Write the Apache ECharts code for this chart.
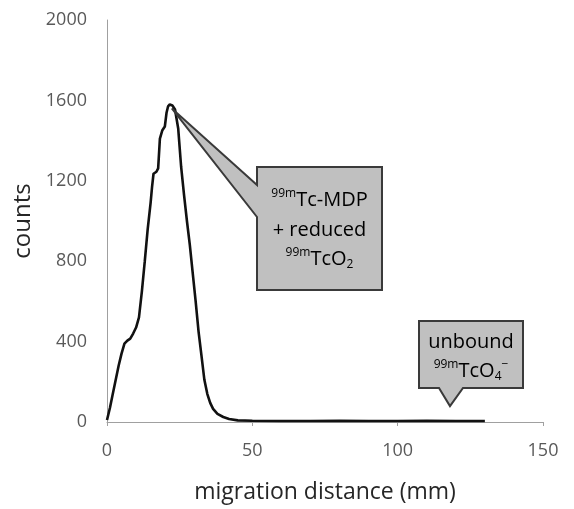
<!DOCTYPE html>
<html>
<head>
<meta charset="utf-8">
<script src="https://cdn.jsdelivr.net/npm/echarts@6/dist/echarts.min.js"></script>
<style>
html,body{margin:0;padding:0;background:#fff;}
#c{width:574px;height:509px;}
</style>
</head>
<body>
<div id="c"></div>
<script>
// migration distance (mm)
const distance = [0, 1, 2, 3, 4, 5, 6, 7, 8, 9, 10, 11, 12, 13, 14, 15, 15.5, 16, 17, 17.6, 18.2, 19, 19.9, 20.5, 21, 21.6, 22.5, 23.4, 24.5, 25.5, 26.5, 27.5, 28.5, 29.5, 30.5, 31.5, 32.5, 33.5, 34.5, 35.5, 36.5, 38, 40, 42, 45, 50, 60, 70, 80, 90, 100, 110, 120, 130];
// counts
const counts = [10, 70, 140, 210, 280, 340, 390, 405, 415, 440, 470, 520, 650, 800, 960, 1090, 1170, 1235, 1245, 1262, 1410, 1450, 1470, 1540, 1570, 1580, 1575, 1555, 1460, 1270, 1130, 1000, 880, 740, 600, 450, 330, 210, 140, 95, 65, 40, 25, 15, 8, 6, 5, 5, 6, 5, 5, 6, 5, 5];
const xTicks = [0, 50, 100, 150];
const yTicks = [0, 400, 800, 1200, 1600, 2000];
const annotations = [
  {tip: [22.3, 1560], lines: ['{sup|99m}{n|Tc-MDP}', '{n|+ reduced}', '{sup|99m}{n|TcO}{sub|2}']},
  {tip: [118, 79], lines: ['{n|unbound}', '{sup|99m}{n|TcO}{sub|4}{sup|−}']}
];

const chart = echarts.init(document.getElementById('c'));
const FONT = 'Open Sans';
const axisGray = '#a0a0a0';
chart.setOption({
  animation: false,
  backgroundColor: '#fff',
  textStyle: {fontFamily: FONT},
  grid: {left: 107, right: 31, top: 20, bottom: 85, containLabel: false},
  xAxis: {
    type: 'value', min: xTicks[0], max: xTicks[xTicks.length - 1], interval: 50,
    name: 'migration distance (mm)', nameLocation: 'middle', nameGap: 59,
    nameTextStyle: {fontSize: 23, color: '#262626', fontFamily: FONT},
    axisLine: {show: true, lineStyle: {color: axisGray, width: 1}},
    axisTick: {show: true, length: 4, lineStyle: {color: axisGray}},
    splitLine: {show: false},
    axisLabel: {fontSize: 18, color: '#595959', margin: 20, fontFamily: FONT}
  },
  yAxis: {
    type: 'value', min: yTicks[0], max: yTicks[yTicks.length - 1], interval: 400,
    name: 'counts', nameLocation: 'middle', nameGap: 70, nameRotate: 90,
    nameTextStyle: {fontSize: 24, color: '#262626', fontFamily: FONT},
    axisLine: {show: true, lineStyle: {color: axisGray, width: 1}},
    axisTick: {show: false},
    splitLine: {show: false},
    axisLabel: {fontSize: 18, color: '#595959', margin: 20, fontFamily: FONT, formatter: v => String(v)}
  },
  series: [{
    type: 'line',
    data: distance.map((d, i) => [d, counts[i]]),
    showSymbol: false,
    smooth: false,
    lineStyle: {color: '#111', width: 2.6},
    z: 3
  }]
});

function px(p) { return chart.convertToPixel({gridIndex: 0}, p); }
const rich = {
  n: {fontSize: 20, color: '#333', fontFamily: FONT, lineHeight: 24},
  sup: {fontSize: 12, color: '#333', fontFamily: FONT, verticalAlign: 'top', lineHeight: 14},
  sub: {fontSize: 12, color: '#333', fontFamily: FONT, verticalAlign: 'bottom', lineHeight: 14}
};
const t1 = px(annotations[0].tip);
const t2 = px(annotations[1].tip);
const b1 = {l: 257, r: 382, t: 167, b: 290};
const b2 = {l: 419, r: 523, t: 321, b: 388};
const graphics = [
  {type: 'polygon', z: 10, shape: {points: [[b1.l, b1.t], [b1.r, b1.t], [b1.r, b1.b], [b1.l, b1.b], [b1.l, 217], t1, [b1.l, 185]]},
   style: {fill: '#c0c0c0', stroke: '#3a3a3a', lineWidth: 2}},
  {type: 'polygon', z: 10, shape: {points: [[b2.l, b2.t], [b2.r, b2.t], [b2.r, b2.b], [463, b2.b], t2, [439, b2.b], [b2.l, b2.b]]},
   style: {fill: '#c0c0c0', stroke: '#3a3a3a', lineWidth: 2}}
];
const ys1 = [200, 230, 259];
annotations[0].lines.forEach((l, i) => graphics.push({type: 'text', z: 11, x: (b1.l + b1.r) / 2, y: ys1[i],
  style: {text: l, rich: rich, textAlign: 'center', textVerticalAlign: 'middle'}}));
const ys2 = [342, 371];
annotations[1].lines.forEach((l, i) => graphics.push({type: 'text', z: 11, x: (b2.l + b2.r) / 2, y: ys2[i],
  style: {text: l, rich: rich, textAlign: 'center', textVerticalAlign: 'middle'}}));
chart.setOption({graphic: graphics});
</script>
</body>
</html>
